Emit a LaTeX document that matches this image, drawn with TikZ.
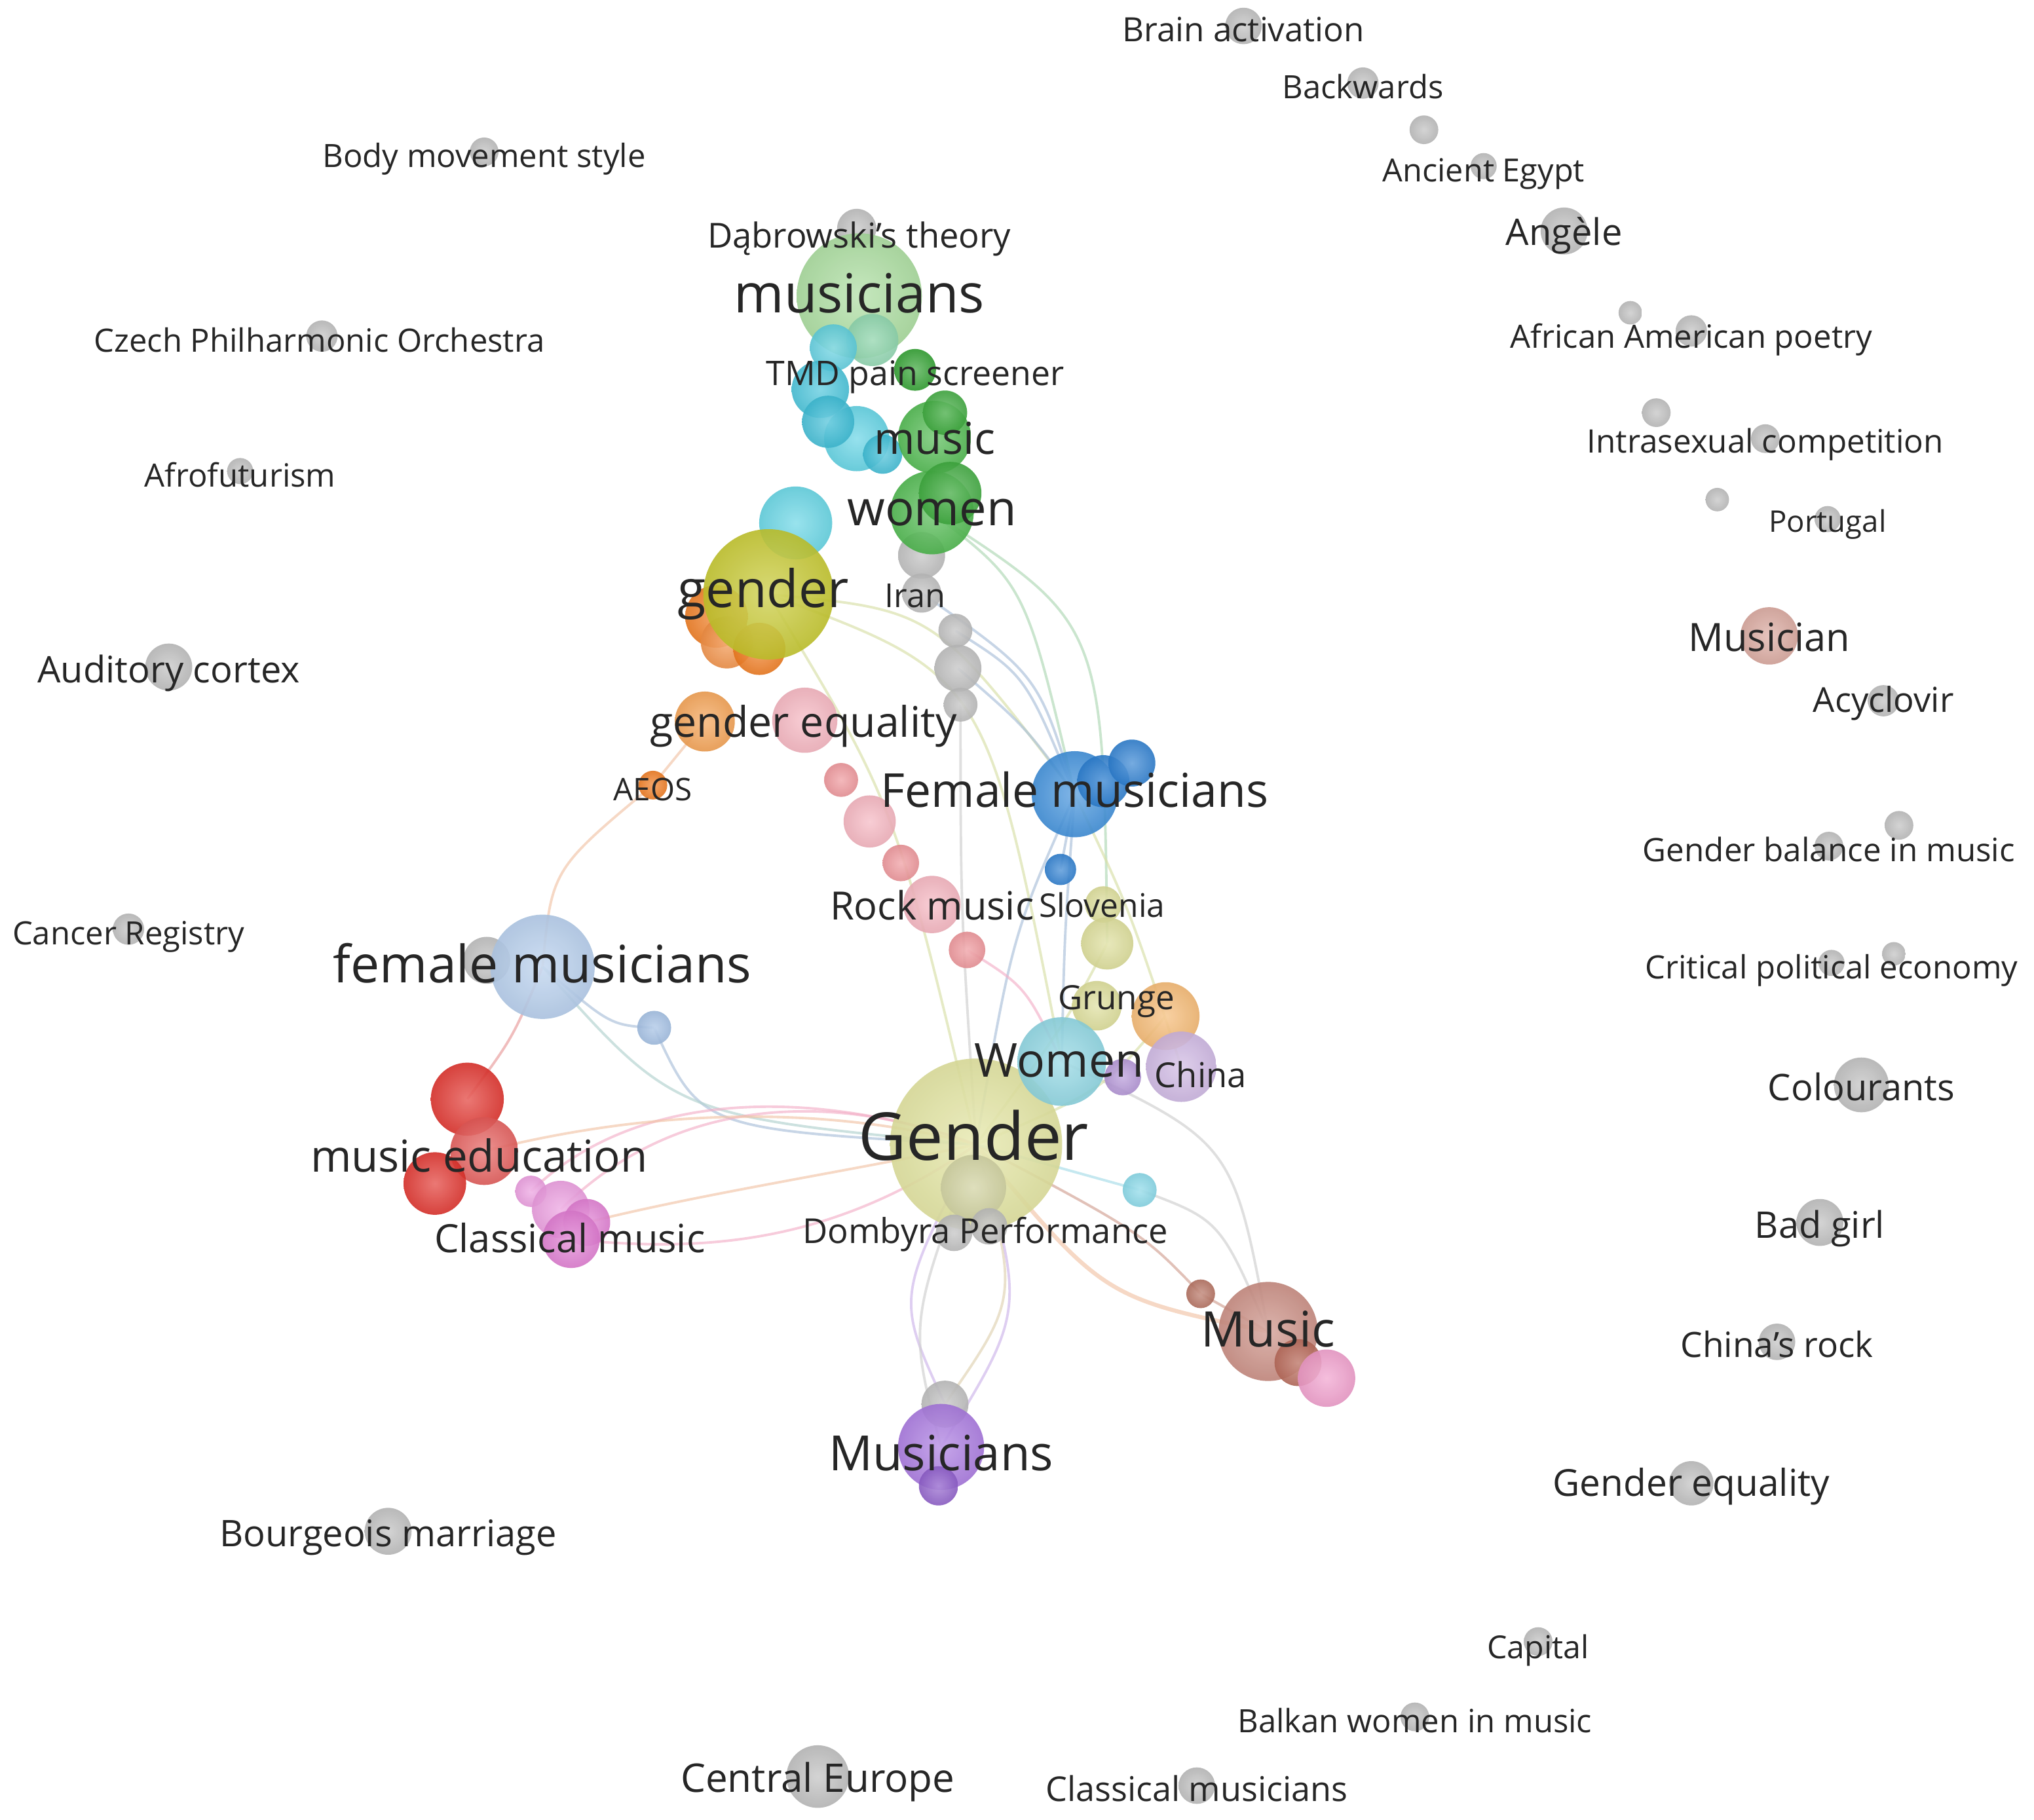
\documentclass[tikz,border=0pt]{standalone}
\usepackage{fontspec}
\setmainfont{Open Sans}
\definecolor{cgrey}{HTML}{BDBDBD}
\definecolor{cmus}{HTML}{A8DC9C}
\definecolor{cmustl}{HTML}{8FD6B0}
\definecolor{ccy1}{HTML}{5FCFE0}
\definecolor{ccy2}{HTML}{45C3DA}
\definecolor{ccy3}{HTML}{3FBDD6}
\definecolor{ccy4}{HTML}{5ED2E4}
\definecolor{cdgreen}{HTML}{2FA02F}
\definecolor{cgreen}{HTML}{4CB84C}
\definecolor{cgreen2}{HTML}{3FAA3F}
\definecolor{ccyb}{HTML}{62D4E4}
\definecolor{colive}{HTML}{C5C72C}
\definecolor{corange}{HTML}{F07A1E}
\definecolor{corange2}{HTML}{F29045}
\definecolor{corl}{HTML}{F4A050}
\definecolor{cpinkl}{HTML}{F5B3BE}
\definecolor{crose}{HTML}{EE9398}
\definecolor{cblue}{HTML}{3D8FDB}
\definecolor{cblue2}{HTML}{2C7ED0}
\definecolor{cyell}{HTML}{DCDD97}
\definecolor{capri}{HTML}{F5B870}
\definecolor{cwomen}{HTML}{8CD5E2}
\definecolor{clav}{HTML}{CDB5E2}
\definecolor{cpurp}{HTML}{B293D6}
\definecolor{cgend}{HTML}{E2E49E}
\definecolor{cgol}{HTML}{D2D3A5}
\definecolor{ccys}{HTML}{86D8E8}
\definecolor{cbrown}{HTML}{B5705F}
\definecolor{cmusic}{HTML}{C98B80}
\definecolor{cbrown2}{HTML}{B86A5A}
\definecolor{cpinkb}{HTML}{F09CCB}
\definecolor{cviolet}{HTML}{A877E0}
\definecolor{cviolet2}{HTML}{8F5FCB}
\definecolor{clblue}{HTML}{B4CDEC}
\definecolor{clblue2}{HTML}{A2BFE4}
\definecolor{cred}{HTML}{E0302A}
\definecolor{cred2}{HTML}{E45A58}
\definecolor{cmag}{HTML}{EB9BDF}
\definecolor{cmag2}{HTML}{E07CD2}
\definecolor{cmusician}{HTML}{D8A59B}
\definecolor{ctext}{HTML}{262626}
\definecolor{ebeige}{HTML}{F2C4A6}
\definecolor{epink}{HTML}{F3B0C8}
\definecolor{ered}{HTML}{E89A9A}
\definecolor{eblue}{HTML}{A9C0DA}
\definecolor{eteal}{HTML}{B2D2CF}
\definecolor{eyel}{HTML}{D8DFA6}
\definecolor{egreen}{HTML}{AED8B4}
\definecolor{egrey}{HTML}{CFCFCF}
\definecolor{epurp}{HTML}{CDB4EA}
\definecolor{etan}{HTML}{E0D2B2}
\definecolor{ecyan}{HTML}{A6DDE8}
\definecolor{ebrown}{HTML}{D2A092}
\pgfdeclarelayer{edges}
\pgfsetlayers{edges,main}
\tikzset{
  bub/.style={circle,inner sep=0pt,draw=none,fill opacity=0.9},
  lab/.style={text=ctext,inner sep=0pt,text height=0.80em,text depth=0.12em},
  edge/.style={line width=0.55pt,draw opacity=0.65}
}
\newcommand\bub[5]{\node[bub,minimum size={2*#4*0.01cm},inner color=#5!72!white,outer color=#5!94!black] (#1) at (#2,#3) {};}
\newcommand\lbl[5]{\node[lab,font=\fontsize{#4pt}{#4pt}\selectfont] (#1) at (#2,#3) {#5};}
\begin{document}
\begin{tikzpicture}[x=0.009955cm,y=-0.009955cm]
\useasboundingbox (0,0) rectangle (1567,1402.3);
\begin{pgfonlayer}{edges}
\fill[white] (0,0) rectangle (1567,1402.3);
\end{pgfonlayer}
% ---------- bubbles: peripheral ----------
\bub{brain}{958}{20}{14}{cgrey}
\bub{backw}{1050}{64}{12}{cgrey}
\bub{gx1}{1097}{100}{11}{cgrey}
\bub{egypt}{1143}{128}{10}{cgrey}
\bub{angele}{1205}{178}{18}{cgrey}
\bub{gx2}{1256}{241}{9}{cgrey}
\bub{afram}{1303}{255}{12}{cgrey}
\bub{gx3}{1276}{318}{11}{cgrey}
\bub{intra}{1360}{338}{11}{cgrey}
\bub{gx4}{1323}{385}{9}{cgrey}
\bub{portugal}{1408}{400}{10}{cgrey}
\bub{musician}{1363}{490}{22}{cmusician}
\bub{acyc}{1451}{540}{12}{cgrey}
\bub{gx5}{1463}{636}{11}{cgrey}
\bub{gbal}{1409}{652}{11}{cgrey}
\bub{gx6}{1459}{735}{9}{cgrey}
\bub{crit}{1411}{742}{10}{cgrey}
\bub{colour}{1434}{836}{21}{cgrey}
\bub{badgirl}{1402}{942}{18}{cgrey}
\bub{chrock}{1369}{1034}{14}{cgrey}
\bub{geq2}{1303}{1143}{17}{cgrey}
\bub{capital}{1185}{1265}{11}{cgrey}
\bub{balkan}{1090}{1323}{11}{cgrey}
\bub{clmus}{922}{1376}{14}{cgrey}
\bub{centeu}{630}{1369}{24}{cgrey}
\bub{bourg}{299}{1180}{18}{cgrey}
\bub{cancer}{99}{716}{12}{cgrey}
\bub{audit}{130}{514}{18}{cgrey}
\bub{afro}{185}{363}{10}{cgrey}
\bub{czech}{248}{259}{12}{cgrey}
\bub{body}{373}{117}{11}{cgrey}
% ---------- central cluster bubbles ----------
\bub{dab}{660}{176}{15}{cgrey}
\bub{mus}{662}{228}{48}{cmus}
\bub{mus2}{672}{262}{20}{cmustl}
\bub{cy1}{642}{268}{18}{ccy1}
\bub{cy2}{632}{300}{22}{ccy2}
\bub{cy4}{660}{338}{25}{ccy4}
\bub{cy3}{638}{325}{20}{ccy3}
\bub{cy5}{680}{350}{15}{ccy3}
\bub{tmd}{705}{285}{16}{cdgreen}
\bub{music}{720}{337}{28}{cgreen}
\bub{music2}{728}{318}{17}{cgreen2}
\bub{gw1}{710}{428}{18}{cgrey}
\bub{women}{718}{395}{32}{cgreen}
\bub{women2}{732}{380}{24}{cgreen2}
\bub{iran}{710}{457}{15}{cgrey}
\bub{cyb}{613}{403}{28}{ccyb}
\bub{or1}{552}{475}{24}{corange}
\bub{or3}{560}{495}{20}{corange2}
\bub{or2}{585}{500}{20}{corange}
\bub{gender}{592}{458}{50}{colive}
\bub{gc1}{736}{486}{13}{cgrey}
\bub{gc2}{738}{515}{18}{cgrey}
\bub{gc3}{740}{543}{13}{cgrey}
\bub{geqo}{543}{556}{23}{corl}
\bub{geqp}{620}{555}{25}{cpinkl}
\bub{aeos}{503}{605}{11}{corange}
\bub{rk1}{648}{601}{13}{crose}
\bub{rk2}{670}{633}{20}{cpinkl}
\bub{rk3}{694}{665}{14}{crose}
\bub{rk4}{718}{697}{22}{cpinkl}
\bub{rk5}{745}{732}{14}{crose}
\bub{fm1}{828}{612}{33}{cblue}
\bub{fm2}{850}{602}{20}{cblue2}
\bub{fm3}{872}{588}{18}{cblue2}
\bub{fm4}{817}{670}{12}{cblue2}
\bub{slov}{850}{697}{14}{cyell}
\bub{yl2}{853}{727}{20}{cyell}
\bub{grunge}{845}{775}{19}{cyell}
\bub{orl}{898}{783}{26}{capri}
\bub{Gender}{752}{882}{66}{cgend}
\bub{Women}{818}{818}{34}{cwomen}
\bub{china}{910}{822}{27}{clav}
\bub{china2}{865}{830}{14}{cpurp}
\bub{gol}{750}{915}{25}{cgol}
\bub{dom1}{735}{950}{14}{cgrey}
\bub{dom2}{762}{945}{14}{cgrey}
\bub{cys}{878}{917}{13}{ccys}
\bub{brs}{925}{997}{11}{cbrown}
\bub{Music}{977}{1026}{38}{cmusic}
\bub{mb}{1000}{1050}{18}{cbrown2}
\bub{mp}{1022}{1062}{22}{cpinkb}
\bub{mgr}{728}{1082}{18}{cgrey}
\bub{Mus}{725}{1115}{33}{cviolet}
\bub{Mus2}{723}{1145}{15}{cviolet2}
\bub{fmg}{375}{740}{18}{cgrey}
\bub{femmus}{418}{745}{40}{clblue}
\bub{bsm}{504}{792}{13}{clblue2}
\bub{me1}{360}{847}{28}{cred}
\bub{me2}{373}{887}{26}{cred2}
\bub{me3}{335}{912}{24}{cred}
\bub{cl1}{409}{918}{12}{cmag}
\bub{cl2}{432}{932}{22}{cmag}
\bub{cl4}{452}{942}{18}{cmag2}
\bub{cl3}{440}{955}{22}{cmag2}
% ---------- edges (on the layer behind the bubbles) ----------
\begin{pgfonlayer}{edges}
\draw[edge,ebeige] (femmus.center) .. controls (425,670) .. (aeos.center);
\draw[edge,ebeige] (aeos.center) -- (geqo.center);
\draw[edge,ered] (femmus.center) .. controls (395,800) .. (me1.center);
\draw[edge,eblue] (femmus.center) .. controls (470,790) .. (bsm.center);
\draw[edge,eblue] (bsm.center) .. controls (540,870) .. (Gender.center);
\draw[edge,eteal] (femmus.center) .. controls (520,860) .. (Gender.center);
\draw[edge,epink] (cl2.center) .. controls (520,845) and (640,840) .. (Gender.center);
\draw[edge,epink] (cl1.center) .. controls (500,830) and (650,845) .. (Gender.center);
\draw[edge,ebeige] (me2.center) .. controls (520,850) and (650,855) .. (Gender.center);
\draw[edge,epink] (cl3.center) .. controls (540,965) and (640,960) .. (Gender.center);
\draw[edge,ebeige] (cl4.center) .. controls (540,920) and (640,905) .. (Gender.center);
\draw[edge,ebeige,line width=0.9pt] (Gender.center) .. controls (850,1000) .. (Music.center);
\draw[edge,ebrown] (Gender.center) .. controls (880,950) .. (brs.center);
\draw[edge,ebrown] (brs.center) -- (Music.center);
\draw[edge,ecyan] (Gender.center) -- (cys.center);
\draw[edge,egrey] (cys.center) .. controls (940,940) .. (Music.center);
\draw[edge,egrey] (Women.center) .. controls (950,880) .. (Music.center);
\draw[edge,epurp] (Gender.center) .. controls (690,1000) .. (mgr.center);
\draw[edge,etan] (Gender.center) .. controls (785,1000) .. (mgr.center);
\draw[edge,epurp] (Gender.center) .. controls (790,1010) .. (Mus.center);
\draw[edge,egrey] (Gender.center) .. controls (700,1020) .. (Mus.center);
\draw[edge,eyel] (gender.center) .. controls (720,470) .. (fm1.center);
\draw[edge,eyel] (gender.center) .. controls (690,620) .. (Gender.center);
\draw[edge,eyel] (gender.center) .. controls (760,520) .. (Women.center);
\draw[edge,egreen] (women.center) .. controls (790,450) .. (fm1.center);
\draw[edge,egreen] (women.center) .. controls (850,480) .. (yl2.center);
\draw[edge,eblue] (gc1.center) .. controls (790,520) .. (fm1.center);
\draw[edge,eblue] (gc2.center) .. controls (790,560) .. (fm1.center);
\draw[edge,eblue] (iran.center) .. controls (800,520) .. (fm1.center);
\draw[edge,eblue] (fm1.center) .. controls (780,720) .. (Gender.center);
\draw[edge,eblue] (fm1.center) .. controls (820,720) .. (Women.center);
\draw[edge,eblue] (fm1.center) -- (fm4.center);
\draw[edge,epink] (rk5.center) .. controls (790,760) .. (Women.center);
\draw[edge,eyel] (fm1.center) .. controls (870,700) .. (china.center);
\draw[edge,eyel] (yl2.center) .. controls (820,790) .. (Gender.center);
\draw[edge,egrey] (gc3.center) .. controls (740,700) .. (Gender.center);
\draw[edge,eyel] (orl.center) .. controls (850,840) .. (Gender.center);
\end{pgfonlayer}
% ---------- labels: peripheral ----------
\lbl{t1}{958}{20}{7.3}{Brain activation}
\lbl{t2}{1050}{64}{7.0}{Backwards}
\lbl{t3}{1143}{128}{6.95}{Ancient Egypt}
\lbl{t4}{1205}{177}{8.0}{Angèle}
\lbl{t5}{1303}{256}{7.0}{African American poetry}
\lbl{t6}{1360}{337}{7.05}{Intrasexual competition}
\lbl{t7}{1408}{398}{6.5}{Portugal}
\lbl{t8}{1363}{490}{8.5}{Musician}
\lbl{t9}{1451}{537}{7.5}{Acyclovir}
\lbl{t10}{1409}{652}{7.05}{Gender balance in music}
\lbl{t11}{1411}{742}{7.0}{Critical political economy}
\lbl{t12}{1434}{836}{8.0}{Colourants}
\lbl{t13}{1402}{942}{8.0}{Bad girl}
\lbl{t14}{1369}{1034}{7.6}{China’s rock}
\lbl{t15}{1303}{1141}{8.1}{Gender equality}
\lbl{t16}{1185}{1266}{6.9}{Capital}
\lbl{t17}{1090}{1323}{7.0}{Balkan women in music}
\lbl{t18}{922}{1376}{7.45}{Classical musicians}
\lbl{t19}{630}{1369}{8.6}{Central Europe}
\lbl{t20}{299}{1180}{8.0}{Bourgeois marriage}
\lbl{t21}{99}{716}{7.0}{Cancer Registry}
\lbl{t22}{130}{514}{8.0}{Auditory cortex}
\lbl{t23}{185}{363}{7.0}{Afrofuturism}
\lbl{t24}{246}{259}{7.0}{Czech Philharmonic Orchestra}
\lbl{t25}{373}{117}{7.0}{Body movement style}
% ---------- labels: central ----------
\lbl{c1}{662}{179}{7.5}{Dąbrowski’s theory}
\lbl{c2}{662}{229}{11.75}{musicians}
\lbl{c3}{705}{285}{7.4}{TMD pain screener}
\lbl{c4}{720}{338}{9.6}{music}
\lbl{c5}{718}{393}{10.6}{women}
\lbl{c6}{588}{456}{11.3}{gender}
\lbl{c7}{705}{456}{7.2}{Iran}
\lbl{c8}{619}{556}{9.2}{gender equality}
\lbl{c9}{503}{605}{6.8}{AEOS}
\lbl{c10}{828}{610}{10.2}{Female musicians}
\lbl{c11}{718}{697}{8.5}{Rock music}
\lbl{c12}{849}{695}{7.1}{Slovenia}
\lbl{c13}{860}{766}{7.3}{Grunge}
\lbl{c14}{816}{818}{10.2}{Women}
\lbl{c15}{925}{826}{7.5}{China}
\lbl{c16}{750}{882}{14.4}{Gender}
\lbl{c17}{759}{946}{7.5}{Dombyra Performance}
\lbl{c18}{977}{1026}{10.7}{Music}
\lbl{c19}{725}{1121}{10.6}{Musicians}
\lbl{c20}{418}{745}{11.25}{female musicians}
\lbl{c21}{369}{891}{9.6}{music education}
\lbl{c22}{439}{953}{8.5}{Classical music}
\end{tikzpicture}
\end{document}
